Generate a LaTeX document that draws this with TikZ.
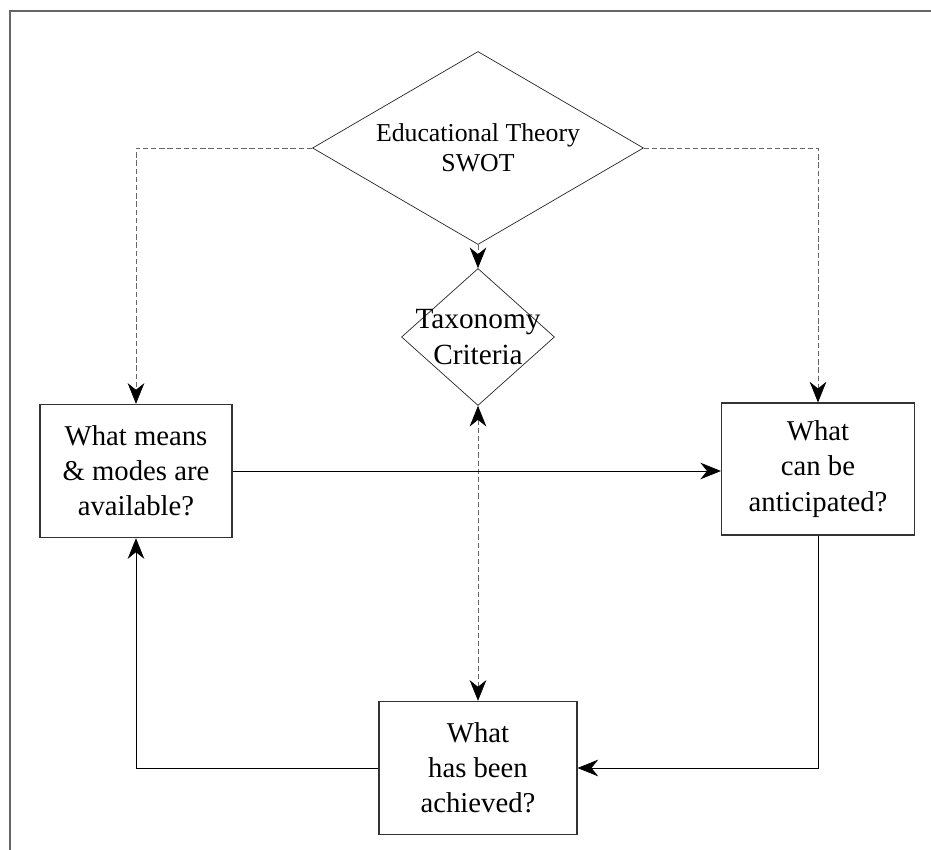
\documentclass[tikz,border=0pt]{standalone}
\usepackage{fontspec}
\setmainfont{Liberation Serif}
\usetikzlibrary{arrows.meta,shapes.geometric,positioning}
\tikzstyle{decision}=[diamond,draw=black!85,line width=0.6pt,align=center]
\tikzstyle{block}=[rectangle,draw=black!80,line width=0.9pt,align=center,minimum width=5.8cm,minimum height=4cm,font=\fontsize{24.5}{30}\selectfont]
\tikzstyle{guide}=[draw=black!60,line width=0.6pt,dash pattern=on 4.5pt off 2.5pt]
\tikzstyle{flow}=[draw=black,line width=0.8pt]

\begin{document}
\begin{tikzpicture}[node distance=2cm,>={Stealth[length=0.62cm,width=0.5cm,inset=0.2cm,color=black]}]
  \useasboundingbox (-14.34,4.44) rectangle (13.59,-21.06);
  % frame
  \draw[black!60,line width=1.5pt] (-14.04,-21.5) |- (14,4.11);

  \node[decision,aspect=1.715,minimum width=9.93cm,minimum height=5.79cm,inner sep=0pt,
        font=\fontsize{22}{25.5}\selectfont] (edu) {Educational Theory\\SWOT};
  \node[decision,aspect=1.117,minimum width=4.59cm,minimum height=4.11cm,inner sep=-0.31cm,
        font=\fontsize{25}{30.5}\selectfont] (tax) [below of=edu, node distance=5.67cm] {Taxonomy\\Criteria};
  \node[block,minimum width=5.76cm] (means) [left of=tax, node distance=10.26cm, yshift=-4.02cm] {What means\\\& modes are\\available?};
  \node[block,minimum width=5.79cm,minimum height=3.96cm] (antic) [right of=tax, node distance=10.2cm, yshift=-3.96cm] {What\\can be\\anticipated?};
  \node[block,minimum width=5.94cm] (done) [below of=tax, node distance=12.93cm] {What\\has been\\achieved?};

  % dashed guides
  \path[guide,->] (edu.west) -| (means.north);
  \path[guide,->] (edu.east) -| (antic.north);
  \path[guide,->] (edu.south) -- (tax.north);
  \path[guide,<->] (tax.south) -- (done.north);

  % cycle
  \path[flow,->] (means.east) -- (antic.west |- means.east);
  \path[flow,->] (antic.south) |- (done.east);
  \path[flow,->] (done.west) -| (means.south);
\end{tikzpicture}
\end{document}
